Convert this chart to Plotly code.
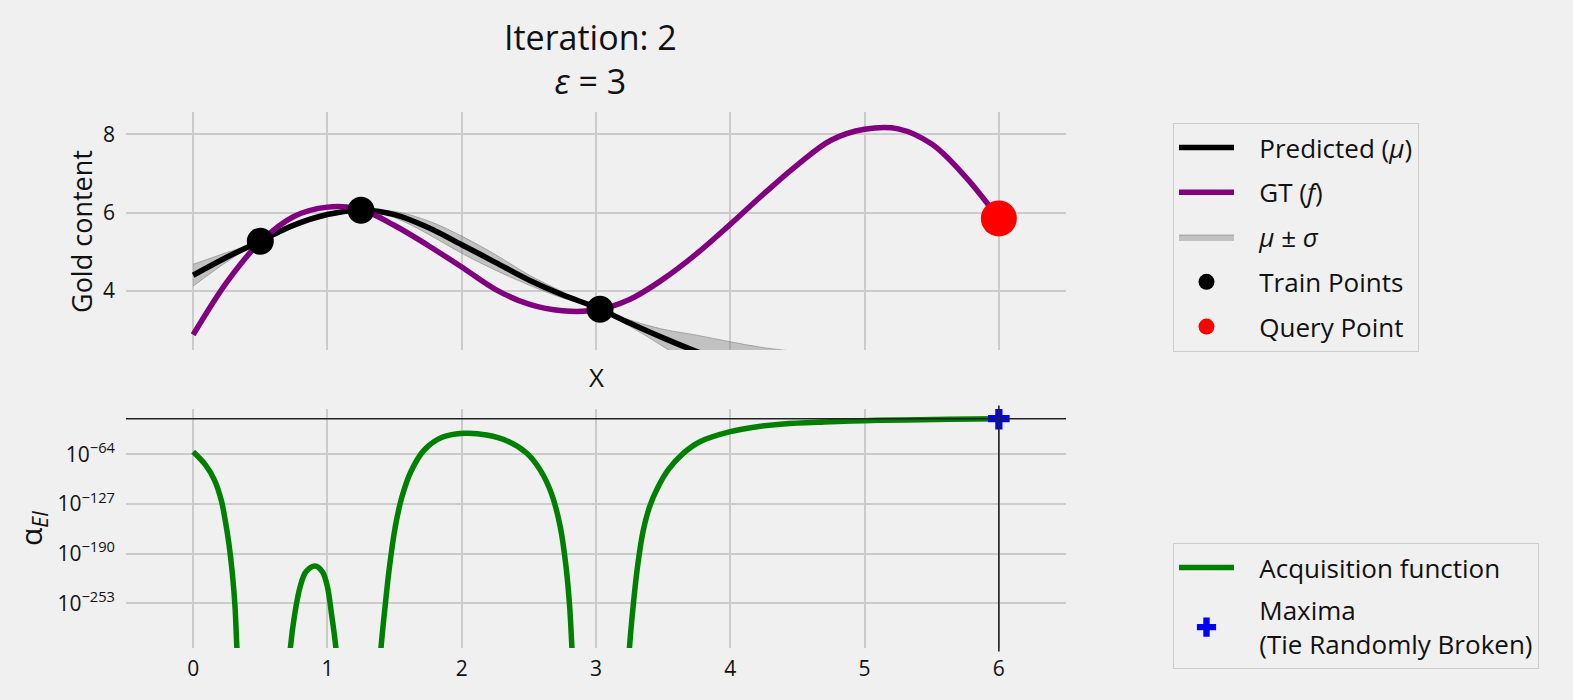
import plotly.graph_objects as go

# ---------------- data ----------------
gp_x = [0, 0.25, 0.5, 0.75, 1.0, 1.25, 1.5, 1.75, 2.0, 2.25, 2.5, 2.75, 3.0,
        3.25, 3.5, 3.75, 4.0, 4.25, 4.5, 4.75, 5.0, 5.25, 5.5, 5.75, 6.0]
gt_y = [2.88, 4.22, 5.25, 5.90, 6.14, 6.08, 5.67, 5.16, 4.61, 4.04, 3.66, 3.49, 3.51,
        3.78, 4.30, 4.95, 5.70, 6.48, 7.22, 7.85, 8.13, 8.14, 7.75, 6.92, 5.85]

mean_x = [0, 0.25, 0.5, 0.75, 1.0, 1.25, 1.5, 1.75, 2.0, 2.25, 2.5, 2.75, 3.0,
          3.25, 3.5, 3.75, 4.0, 4.25, 4.5]
mean_y = [4.40, 4.86, 5.27, 5.68, 5.95, 6.06, 5.95, 5.62, 5.18, 4.73, 4.28, 3.90, 3.58,
          3.18, 2.80, 2.45, 2.15, 1.90, 1.70]
sigma_y = [0.28, 0.12, 0.0, 0.06, 0.05, 0.0, 0.08, 0.17, 0.22, 0.20, 0.13, 0.08, 0.01,
           0.08, 0.22, 0.42, 0.55, 0.65, 0.75]

train_x = [0.5, 1.25, 3.03]
train_y = [5.27, 6.06, 3.53]
query_x = [6.0]
query_y = [5.85]

# acquisition function, as log10 exponents (segments separated where it underflows)
acq_x1 = [0, 0.093, 0.159, 0.209, 0.243, 0.266, 0.292, 0.312, 0.326, 0.335]
acq_v1 = [-60.7, -77.6, -96.6, -122, -151.6, -177, -215, -257.5, -309.6, -330]
acq_x2 = [0.716, 0.724, 0.757, 0.797, 0.84, 0.907, 0.963, 1.0, 1.03, 1.063, 1.07]
acq_v2 = [-330, -309.6, -266, -232, -213, -205.5, -213, -232, -266, -309.6, -330]
acq_x3 = [1.392, 1.399, 1.429, 1.462, 1.505, 1.555, 1.621, 1.721, 1.854, 2.02, 2.186,
          2.352, 2.485, 2.585, 2.668, 2.734, 2.777, 2.804, 2.821, 2.828]
acq_v3 = [-330, -309.6, -257.5, -206.7, -156, -117.8, -86, -58.5, -42.4, -37.3, -39.5,
          -48, -62.7, -84, -113.5, -156, -206.7, -257.5, -309.6, -330]
acq_x4 = [3.242, 3.249, 3.276, 3.309, 3.35, 3.40, 3.46, 3.54, 3.65, 3.774, 4.0, 4.2,
          4.395, 4.7, 5.0, 5.3, 5.635, 6.0]
acq_v4 = [-330, -309.6, -257.5, -206.7, -162, -130, -106, -83, -62.7, -48, -35.3, -29,
          -25.5, -23, -21.3, -20.3, -19.6, -18.8]

max_x = [6.0]
max_v = [-18.8]

x_ticks = [0, 1, 2, 3, 4, 5, 6]
y1_ticks = [4, 6, 8]
y2_ticks = [-64, -127, -190, -253]
y2_ticktext = ["10<sup>\u221264</sup>", "10<sup>\u2212127</sup>",
               "10<sup>\u2212190</sup>", "10<sup>\u2212253</sup>"]

# ---------------- styling ----------------
BG = "#f0f0f0"
GRID = "#cbcbcb"
FONT = "Open Sans"
TXT = "#111111"
PAD = "&nbsp;&nbsp;&nbsp;"

lower = [m - s for m, s in zip(mean_y, sigma_y)]
upper = [m + s for m, s in zip(mean_y, sigma_y)]

acq_x = acq_x1 + [None] + acq_x2 + [None] + acq_x3 + [None] + acq_x4
acq_v = acq_v1 + [None] + acq_v2 + [None] + acq_v3 + [None] + acq_v4

fig = go.Figure()

fig.add_trace(go.Scatter(x=mean_x, y=lower, mode="lines",
                         line=dict(width=0.8, color="rgba(110,110,110,0.6)", shape="spline", smoothing=1),
                         showlegend=False, hoverinfo="skip", xaxis="x", yaxis="y"))
fig.add_trace(go.Scatter(x=mean_x, y=upper, mode="lines", fill="tonexty", fillcolor="rgba(128,128,128,0.42)",
                         line=dict(width=0.8, color="rgba(110,110,110,0.6)", shape="spline", smoothing=1),
                         name=PAD + "<i>\u03bc</i> \u00b1 <i>\u03c3</i>", legendrank=3, legendgroup="c",
                         legend="legend", xaxis="x", yaxis="y"))
fig.add_trace(go.Scatter(x=mean_x, y=mean_y, mode="lines",
                         line=dict(width=5.5, color="black", shape="spline", smoothing=1),
                         name=PAD + "Predicted (<i>\u03bc</i>)", legendrank=1, legendgroup="a",
                         legend="legend", xaxis="x", yaxis="y"))
fig.add_trace(go.Scatter(x=gp_x, y=gt_y, mode="lines",
                         line=dict(width=5.5, color="#800080", shape="spline", smoothing=1),
                         name=PAD + "GT (<i>f</i>)", legendrank=2, legendgroup="b",
                         legend="legend", xaxis="x", yaxis="y"))
fig.add_trace(go.Scatter(x=train_x, y=train_y, mode="markers", marker=dict(size=27, color="black"),
                         name=PAD + "Train Points", legendrank=4, legendgroup="d",
                         legend="legend", xaxis="x", yaxis="y"))
fig.add_trace(go.Scatter(x=query_x, y=query_y, mode="markers", marker=dict(size=36, color="red"),
                         name=PAD + "Query Point", legendrank=5, legendgroup="e",
                         legend="legend", xaxis="x", yaxis="y"))

fig.add_trace(go.Scatter(x=acq_x, y=acq_v, mode="lines",
                         line=dict(width=5.5, color="#008000", shape="spline", smoothing=1),
                         name=PAD + "Acquisition function", legendgroup="f", connectgaps=False,
                         legend="legend2", xaxis="x2", yaxis="y2"))
fig.add_trace(go.Scatter(x=max_x, y=max_v, mode="markers", marker=dict(size=18, color="#0000ff", symbol="cross"),
                         name=PAD + "Maxima<br>" + PAD + "(Tie Randomly Broken)", legendgroup="g",
                         legend="legend2", xaxis="x2", yaxis="y2"))

xdom = [126 / 1573, 1066 / 1573]
ax_common = dict(showgrid=True, gridcolor=GRID, gridwidth=2, zeroline=False, showline=False,
                 ticks="", tickfont=dict(family=FONT, size=21, color=TXT))

fig.update_layout(
    width=1573, height=700,
    paper_bgcolor=BG, plot_bgcolor=BG,
    margin=dict(l=0, r=0, t=0, b=0),
    font=dict(family=FONT, color=TXT),
    xaxis=dict(domain=xdom, range=[-0.5, 6.5], tickvals=x_ticks, showticklabels=False,
               anchor="y", **ax_common),
    yaxis=dict(domain=[1 - 350 / 700, 1 - 112 / 700], range=[2.49, 8.57], tickvals=y1_ticks,
               anchor="x", ticklabelstandoff=10, **ax_common),
    xaxis2=dict(domain=xdom, range=[-0.5, 6.5], tickvals=x_ticks, anchor="y2",
                ticklabelstandoff=6, **ax_common),
    yaxis2=dict(domain=[1 - 648 / 700, 1 - 409 / 700], range=[-309.6, -6.5], tickvals=y2_ticks,
                ticktext=y2_ticktext, anchor="x2", ticklabelstandoff=10, **ax_common),
    legend=dict(x=1173 / 1573, y=1 - 123 / 700, xanchor="left", yanchor="top",
                bgcolor=BG, bordercolor="#cccccc", borderwidth=1,
                font=dict(family=FONT, size=26, color=TXT), tracegroupgap=8,
                itemsizing="trace", traceorder="grouped", itemwidth=55),
    legend2=dict(x=1173 / 1573, y=1 - 543 / 700, xanchor="left", yanchor="top",
                 bgcolor=BG, bordercolor="#cccccc", borderwidth=1,
                 font=dict(family=FONT, size=26, color=TXT), tracegroupgap=6,
                 itemsizing="trace", traceorder="grouped", itemwidth=55),
    showlegend=True,
)

# axhline at maximum of acquisition, axvline at the chosen point
fig.add_shape(type="line", xref="x2 domain", yref="y2", x0=0, x1=1, y0=max(acq_v4), y1=max(acq_v4),
              line=dict(color="#222222", width=1.6), layer="above")
fig.add_shape(type="line", xref="x2", yref="y2 domain", x0=max_x[0], x1=max_x[0], y0=-0.015, y1=1.015,
              line=dict(color="#222222", width=1.6), layer="above")

# titles
fig.add_annotation(text="Iteration: 2<br><i>\u03b5</i> = 3", x=590 / 1573, y=1 - 59 / 700,
                   xref="paper", yref="paper", showarrow=False, xanchor="center", yanchor="middle",
                   align="center", font=dict(family=FONT, size=34, color=TXT))
fig.add_annotation(text="X", x=596 / 1573, y=1 - 377 / 700, xref="paper", yref="paper",
                   showarrow=False, xanchor="center", yanchor="middle",
                   font=dict(family=FONT, size=26, color=TXT))
fig.add_annotation(text="Gold content", x=82 / 1573, y=1 - 232 / 700, xref="paper", yref="paper",
                   showarrow=False, xanchor="center", yanchor="middle", textangle=-90,
                   font=dict(family=FONT, size=27, color=TXT))
fig.add_annotation(text="\u03b1<sub><i>EI</i></sub>", x=32 / 1573, y=1 - 529 / 700, xref="paper", yref="paper",
                   showarrow=False, xanchor="center", yanchor="middle", textangle=-90,
                   font=dict(family=FONT, size=30, color=TXT))

fig.write_html("out.html", config={"displayModeBar": False},
               post_script="document.body.style.margin='0';document.body.style.background='#f0f0f0';")
